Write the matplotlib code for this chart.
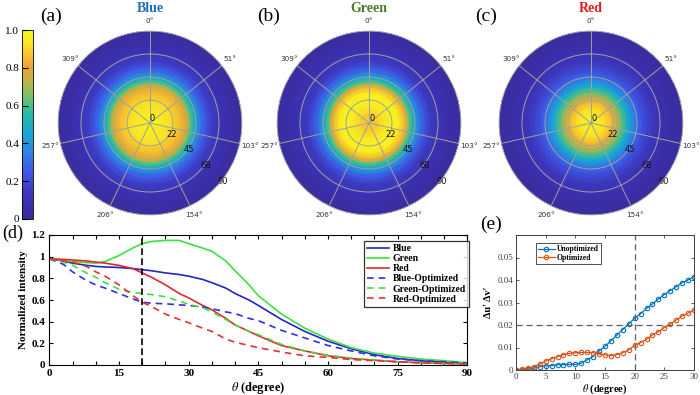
import numpy as np
import matplotlib
matplotlib.use('Agg')
import matplotlib.pyplot as plt
from matplotlib.colors import LinearSegmentedColormap
from matplotlib.ticker import MultipleLocator

plt.rcParams['font.family'] = ['Liberation Serif', 'DejaVu Serif']
plt.rcParams['mathtext.fontset'] = 'stix'

# (a)-(c) radial intensity profiles of the polar maps (radius in degree)
r_polar = [0, 10, 15, 20, 25, 30, 35, 38, 40, 43, 46, 50, 55, 60, 70, 80, 90]
blue_map = [0.97, 0.96, 0.94, 0.92, 0.89, 0.85, 0.78, 0.70, 0.62, 0.52, 0.42, 0.32, 0.24,
            0.17, 0.10, 0.06, 0.03]
green_map = [0.86, 0.90, 0.94, 0.97, 0.98, 0.95, 0.83, 0.72, 0.62, 0.52, 0.42, 0.31, 0.23,
             0.16, 0.10, 0.06, 0.03]
red_map = [0.98, 0.95, 0.91, 0.85, 0.75, 0.63, 0.50, 0.44, 0.40, 0.34, 0.29, 0.23, 0.18,
           0.14, 0.09, 0.05, 0.03]

# (d) normalized intensity vs theta (degree)
theta_d = [0, 3, 5, 8, 10, 12, 15, 18, 20, 22, 25, 28, 30, 33, 35, 38, 40, 43, 45,
           50, 55, 60, 65, 70, 75, 80, 85, 90]
blue = [0.98, 0.96, 0.94, 0.92, 0.91, 0.905, 0.90, 0.89, 0.88, 0.87, 0.85, 0.835, 0.82, 0.79,
        0.76, 0.71, 0.66, 0.60, 0.55, 0.42, 0.31, 0.22, 0.15, 0.095, 0.06, 0.04, 0.025, 0.015]
green = [0.98, 0.965, 0.955, 0.945, 0.94, 0.955, 1.01, 1.08, 1.12, 1.14, 1.15, 1.15, 1.12, 1.08,
         1.05, 0.96, 0.87, 0.74, 0.64, 0.47, 0.34, 0.24, 0.16, 0.11, 0.08, 0.055, 0.04, 0.02]
red = [0.98, 0.975, 0.97, 0.96, 0.95, 0.94, 0.92, 0.89, 0.85, 0.81, 0.74, 0.66, 0.62, 0.55,
       0.51, 0.43, 0.37, 0.31, 0.27, 0.18, 0.13, 0.085, 0.06, 0.045, 0.03, 0.02, 0.015, 0.01]
blue_opt = [0.98, 0.93, 0.86, 0.78, 0.74, 0.71, 0.66, 0.61, 0.58, 0.57, 0.565, 0.555, 0.55, 0.535,
            0.52, 0.49, 0.475, 0.43, 0.41, 0.32, 0.25, 0.18, 0.13, 0.085, 0.055, 0.04, 0.03, 0.02]
green_opt = [0.98, 0.95, 0.92, 0.85, 0.81, 0.76, 0.70, 0.67, 0.66, 0.65, 0.63, 0.59, 0.56, 0.53,
             0.49, 0.42, 0.37, 0.31, 0.28, 0.19, 0.13, 0.09, 0.065, 0.045, 0.03, 0.02, 0.015, 0.01]
red_opt = [0.98, 0.96, 0.95, 0.91, 0.86, 0.82, 0.74, 0.64, 0.58, 0.54, 0.47, 0.42, 0.39, 0.34,
           0.31, 0.24, 0.21, 0.18, 0.16, 0.12, 0.085, 0.07, 0.05, 0.04, 0.03, 0.02, 0.015, 0.01]

# (e) color shift vs theta
theta_e = list(range(31))
du_unopt = [0, 0, 0.0003, 0.0008, 0.0015, 0.0018, 0.002, 0.0023, 0.0024, 0.0025, 0.0025,
            0.003, 0.0045, 0.006, 0.0085, 0.0105, 0.013, 0.0155, 0.018, 0.0205, 0.023,
            0.025, 0.0274, 0.0293, 0.0316, 0.0335, 0.0353, 0.037, 0.0388, 0.040, 0.0415]
du_opt = [0, 0.0005, 0.0008, 0.0015, 0.0027, 0.004, 0.005, 0.006, 0.0068, 0.0074, 0.0077,
          0.0078, 0.0078, 0.0077, 0.0071, 0.0067, 0.0064, 0.0068, 0.0077, 0.0089, 0.011,
          0.0122, 0.0136, 0.0156, 0.017, 0.0188, 0.0204, 0.0222, 0.024, 0.0252, 0.0267]

ang_ticks = [0, 51.43, 102.86, 154.29, 205.71, 257.14, 308.57]
ang_labels = ['0°', '51°', '103°', '154°', '206°', '257°', '309°']
r_ticks = [0, 22.5, 45, 67.5, 90]
r_labels = ['0', '22', '45', '68', '90']

cmap = LinearSegmentedColormap.from_list('parula_like', [
    (0.0, '#3a2b98'), (0.12, '#3c33b8'), (0.25, '#3f57e6'), (0.36, '#2f86e4'),
    (0.46, '#14aad2'), (0.56, '#27bca2'), (0.66, '#80c064'), (0.74, '#c8b048'),
    (0.81, '#eea43a'), (0.87, '#f7c42e'), (0.93, '#f8e626'), (1.0, '#f9f51e')])

W, H = 700, 395
fig = plt.figure(figsize=(W / 100, H / 100), dpi=100)

# polar intensity maps
panels = [('Blue', blue_map, '#1f6fb8', 150, '(a)', 40),
          ('Green', green_map, '#4a7a2a', 369, '(b)', 257),
          ('Red', red_map, '#e01b1b', 591, '(c)', 475)]
R = 92
cy = 123
tt = np.radians(np.arange(0, 362, 2))
for name, curve, col, cx, tag, tx in panels:
    ax = fig.add_axes([(cx - R) / W, (H - cy - R) / H, 2 * R / W, 2 * R / H],
                      projection='polar')
    ax.set_theta_zero_location('N')
    ax.set_theta_direction(-1)
    T, RR = np.meshgrid(tt, r_polar)
    C = np.repeat(np.array(curve)[:, None], len(tt), axis=1)
    mesh = ax.pcolormesh(T, RR, C, cmap=cmap, vmin=0, vmax=1, shading='gouraud')
    ax.set_ylim(0, 90)
    ax.set_xticks(np.radians(ang_ticks))
    ax.set_xticklabels(ang_labels, fontsize=5.2, family='DejaVu Sans', color='#333333')
    ax.set_yticks(r_ticks)
    ax.set_yticklabels(r_labels, fontsize=6, family='DejaVu Sans', color='#111111')
    ax.set_rlabel_position(133)
    ax.tick_params(axis='x', pad=-3)
    ax.grid(True, color='#a0a0a0', lw=0.7)
    ax.spines['polar'].set_color('#b0b0b0')
    ax.spines['polar'].set_linewidth(0.5)
    fig.text(cx / W, 1 - 2 / H, name, color=col, fontsize=10, fontweight='bold',
             ha='center', va='top')
    fig.text(tx / W, 1 - 8 / H, tag, fontsize=14, va='top')

# colorbar
cax = fig.add_axes([22 / W, (H - 219) / H, 11 / W, 189 / H])
cb = fig.colorbar(mesh, cax=cax)
cb.set_ticks([0, 0.2, 0.4, 0.6, 0.8, 1.0])
cb.set_ticklabels(['0', '0.2', '0.4', '0.6', '0.8', '1.0'])
cax.yaxis.set_ticks_position('left')
cax.yaxis.set_label_position('left')
cax.tick_params(direction='in', length=4, width=0.8, labelsize=8, pad=2)
cb.outline.set_linewidth(0.6)

# (d) line plot
ax_d = fig.add_axes([49.3 / W, 30 / H, 418 / W, 130 / H])
ax_d.plot(theta_d, blue, color='#2424c8', lw=1.2, label='Blue')
ax_d.plot(theta_d, green, color='#3ee03e', lw=1.2, label='Green')
ax_d.plot(theta_d, red, color='#e02a2a', lw=1.2, label='Red')
ax_d.plot(theta_d, blue_opt, color='#2f2fe8', lw=1.2, ls=(0, (4, 3)), label='Blue-Optimized')
ax_d.plot(theta_d, green_opt, color='#3ee03e', lw=1.2, ls=(0, (4, 3)), label='Green-Optimized')
ax_d.plot(theta_d, red_opt, color='#e83030', lw=1.2, ls=(0, (4, 3)), label='Red-Optimized')
ax_d.axvline(20, color='black', lw=1.2, ls=(0, (4, 2)))
ax_d.set_xlim(0, 90)
ax_d.set_ylim(0, 1.2)
ax_d.xaxis.set_major_locator(MultipleLocator(15))
ax_d.xaxis.set_minor_locator(MultipleLocator(5))
ax_d.set_yticks([0, 0.2, 0.4, 0.6, 0.8, 1.0, 1.2])
ax_d.set_yticklabels(['0', '0.2', '0.4', '0.6', '0.8', '1', '1.2'])
ax_d.tick_params(which='both', direction='in', top=True, right=True, length=3, width=0.8,
                 labelsize=8, pad=3)
for lab in ax_d.get_xticklabels() + ax_d.get_yticklabels():
    lab.set_fontweight('bold')
for s in ax_d.spines.values():
    s.set_linewidth(0.8)
ax_d.set_xlabel(r'$\theta$ (degree)', fontsize=9, fontweight='bold', labelpad=1)
ax_d.set_ylabel('Normalized intensity', fontsize=8, fontweight='bold', labelpad=2)
leg = ax_d.legend(loc='upper right', bbox_to_anchor=(1.004, 1 - 6 / 130),
                  prop={'size': 7, 'weight': 'bold'}, fancybox=False,
                  edgecolor='black', handlelength=2.3, labelspacing=0.12, borderpad=0.3,
                  borderaxespad=0, handletextpad=0.4)
leg.get_frame().set_linewidth(0.9)
fig.text(2 / W, 1 - 225 / H, '(d)', fontsize=13, va='top')

# (e) color shift plot
c1 = (0, 0.447, 0.741)
c2 = (0.85, 0.325, 0.098)
ax_e = fig.add_axes([516 / W, 25 / H, 178 / W, 135 / H])
ax_e.plot(theta_e, du_unopt, color=c1, lw=0.9, marker='o', ms=3.2, mfc='none', mew=0.8,
          label='Unoptimized')
ax_e.plot(theta_e, du_opt, color=c2, lw=0.9, marker='o', ms=3.2, mfc='none', mew=0.8,
          label='Optimized')
ax_e.axvline(20, color='#606060', lw=0.9, ls=(0, (5, 3)))
ax_e.axhline(0.02, color='#606060', lw=0.9, ls=(0, (5, 3)))
ax_e.set_xlim(0, 30)
ax_e.set_ylim(0, 0.06)
ax_e.set_xticks(range(0, 31, 5))
ax_e.set_yticks([0, 0.01, 0.02, 0.03, 0.04, 0.05])
ax_e.set_yticklabels(['0', '0.01', '0.02', '0.03', '0.04', '0.05'])
ax_e.tick_params(direction='in', top=True, right=True, length=2.5, width=0.6,
                 labelsize=6.5, labelcolor='#404040', colors='#404040', pad=2)
for s in ax_e.spines.values():
    s.set_linewidth(0.7)
    s.set_color('#404040')
ax_e.set_xlabel(r'$\theta$ (degree)', fontsize=7.5, fontweight='bold', labelpad=1)
ax_e.set_ylabel('Δu′ Δv′', fontsize=7.5, fontweight='bold', labelpad=3)
leg_e = ax_e.legend(loc='upper left', bbox_to_anchor=(0.11, 0.94),
                    prop={'size': 5.5, 'weight': 'bold'}, fancybox=False,
                    edgecolor='black', handlelength=2.2, labelspacing=0.1, borderpad=0.3,
                    borderaxespad=0, handletextpad=0.3)
leg_e.get_frame().set_linewidth(0.6)
fig.text(480 / W, 1 - 216 / H, '(e)', fontsize=14, va='top')

fig.savefig('out.png', dpi=100)
